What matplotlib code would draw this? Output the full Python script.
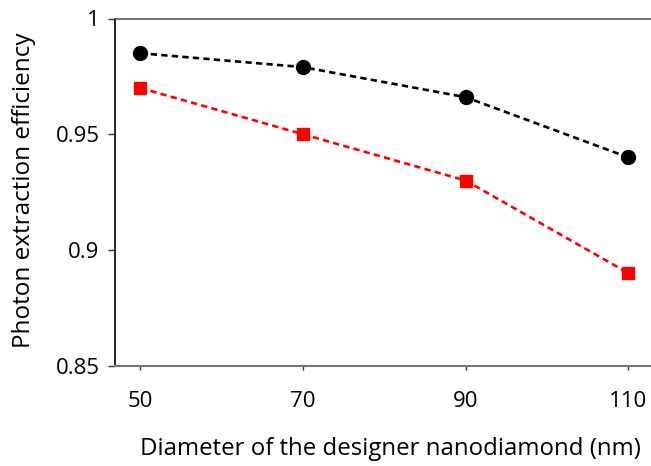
import matplotlib
matplotlib.use("Agg")
import matplotlib.pyplot as plt

diameters = [50, 70, 90, 110]
series_black = [0.985, 0.979, 0.966, 0.940]
series_red = [0.970, 0.950, 0.930, 0.890]
y_ticks = [0.85, 0.9, 0.95, 1.0]
y_tick_labels = ["0.85", "0.9", "0.95", "1"]

plt.rcParams["font.family"] = ["Open Sans", "DejaVu Sans"]

fig = plt.figure(figsize=(6.51, 4.66), dpi=100)
ax = fig.add_axes([115 / 651, 1 - 365.7 / 466, (651 - 115) / 651 + 0.01, (365.7 - 18.5) / 466])

dash = (0, (2.4, 1.6))
ax.plot(diameters, series_black, color="black", linestyle=dash, linewidth=1.9,
        marker="o", markersize=10, markerfacecolor="black", markeredgecolor="black", zorder=3)
ax.plot(diameters, series_red, color="#ff0000", linestyle=dash, linewidth=1.9,
        marker="s", markersize=9, markerfacecolor="#ff0000", markeredgecolor="#ff0000", zorder=3)

ax.set_ylim(0.85, 1.0)
ax.set_xlim(46.9, 46.9 + (ax.get_position().width * 651) / 8.135)

ax.set_xticks(diameters)
ax.set_xticklabels([str(d) for d in diameters])
ax.set_yticks(y_ticks)
ax.set_yticklabels(y_tick_labels)

ax.tick_params(axis="x", direction="out", length=3, width=1, color="#333333",
               labelsize=16, pad=15)
ax.tick_params(axis="y", direction="out", length=5, width=1, color="#333333",
               labelsize=16, pad=6)

ax.spines["right"].set_visible(False)
ax.spines["left"].set_color("black")
ax.spines["left"].set_linewidth(1.2)
ax.spines["top"].set_color("#555555")
ax.spines["top"].set_linewidth(1.2)
ax.spines["bottom"].set_color("#777777")
ax.spines["bottom"].set_linewidth(1.5)

ax.set_xlabel("Diameter of the designer nanodiamond (nm)", fontsize=17.3)
ax.set_ylabel("Photon extraction efficiency", fontsize=17.5)
ax.xaxis.set_label_coords((387 - 115) / 536, -(437 - 365.7) / 347.2)
ax.yaxis.set_label_coords(-(115 - 37) / 536, (365.7 - 190) / 347.2)

fig.savefig("out.png", dpi=100)
